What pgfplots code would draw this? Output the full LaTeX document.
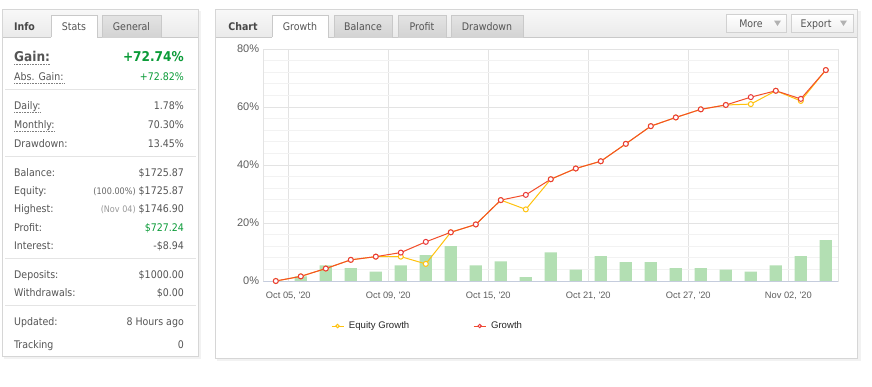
\documentclass[border=0pt]{standalone}
\usepackage{fontspec}
\setmainfont{DejaVu Sans Condensed}
\newfontfamily\arialf{Liberation Sans}
\usepackage{pgfplots}
\pgfplotsset{compat=1.18}
\definecolor{txt}{HTML}{555555}
\definecolor{lbl}{HTML}{5E5E5E}
\definecolor{gr}{HTML}{0B9B38}
\definecolor{sep}{HTML}{E4E4E4}
\definecolor{bord}{HTML}{D6D6D6}
\definecolor{hdtop}{HTML}{F8F8F8}
\definecolor{hdbot}{HTML}{EAEAEA}
\definecolor{tabtop}{HTML}{E4E4E4}
\definecolor{tabbot}{HTML}{D3D3D3}
\definecolor{tabbord}{HTML}{C9C9C9}
\definecolor{barg}{HTML}{B3DFB3}
\definecolor{eqc}{HTML}{FFC20E}
\definecolor{grc}{HTML}{F24E2A}
\definecolor{grm}{HTML}{E8383A}
\definecolor{gridmaj}{HTML}{E3E3E3}
\definecolor{gridmin}{HTML}{F2F2F2}
\definecolor{axb}{HTML}{C5CCDD}
\newcommand\fs[1]{\fontsize{#1}{#1}\selectfont}
\newcommand\row[3]{%
  \node[anchor=base west,inner sep=0,text=txt,font=\fs{10.5}] at (14,-#1) {#2};
  \node[anchor=base east,inner sep=0,text=txt,font=\fs{10.5}] at (184,-#1) {#3};}
\newcommand\drow[4]{%
  \node[anchor=base west,inner sep=0,text=txt,font=\fs{10.5}] (#4) at (14,-#1) {#2};
  \draw[densely dotted,black!50,line width=0.6pt] ([yshift=-3.5pt]#4.base west) -- ([yshift=-3.5pt]#4.base east);
  \node[anchor=base east,inner sep=0,text=txt,font=\fs{10.5}] at (184,-#1) {#3};}
\begin{document}
\begin{tikzpicture}[x=1pt,y=1pt]
\useasboundingbox (0,0) rectangle (872,-386);
% ---------- left panel ----------
\fill[black!5] (4,-11) rectangle (200.5,-359);
\fill[white] (2.5,-9.5) rectangle (198.5,-356.5);
\shade[top color=hdtop,bottom color=hdbot] (2.5,-9.5) rectangle (198.5,-37);
\draw[tabbord] (2.5,-37) -- (198.5,-37);
\shade[top color=tabtop,bottom color=tabbot] (102,-15) rectangle (161,-37);
\draw[tabbord] (102,-37) |- (161,-15) -- (161,-37);
\fill[white] (51,-15) rectangle (97,-37.6);
\draw[tabbord] (51,-37) |- (97,-15) -- (97,-37);
\draw[bord] (2.5,-9.5) rectangle (198.5,-356.5);
\node[anchor=base,inner sep=0,font=\bfseries\fs{10.5},text=black!72] at (24.5,-30) {Info};
\node[anchor=base,inner sep=0,font=\fs{10.5},text=txt] at (74,-30) {Stats};
\node[anchor=base,inner sep=0,font=\fs{10.5},text=txt] at (131.5,-30) {General};
% gain
\node[anchor=base west,inner sep=0,text=txt,font=\bfseries\fs{13.5}] (gn) at (14,-61) {Gain:};
\draw[densely dotted,black!50,line width=0.6pt] ([yshift=-3.5pt]gn.base west) -- ([yshift=-3.5pt]gn.base east);
\node[anchor=base east,inner sep=0,text=gr,font=\bfseries\fs{13.5}] at (184,-61) {+72.74\%};
\drow{80}{Abs. Gain:}{\textcolor{gr}{+72.82\%}}{ag}
\draw[sep] (5,-89) -- (196,-89);
\drow{109}{Daily:}{1.78\%}{dl}
\drow{128}{Monthly:}{70.30\%}{mo}
\row{147}{Drawdown:}{13.45\%}
\draw[sep] (5,-156) -- (196,-156);
\row{176}{Balance:}{\$1725.87}
\row{194}{Equity:}{{\fs{9}\color{black!60}(100.00\%)} \$1725.87}
\row{212}{Highest:}{{\fs{9}\color{black!40}(Nov 04)} \$1746.90}
\row{231}{Profit:}{\textcolor{gr}{\$727.24}}
\row{249}{Interest:}{-\$8.94}
\draw[sep] (5,-258.5) -- (196,-258.5);
\row{278}{Deposits:}{\$1000.00}
\row{296}{Withdrawals:}{\$0.00}
\draw[sep] (5,-305.5) -- (196,-305.5);
\row{325}{Updated:}{8 Hours ago}
\row{348}{Tracking}{0}
% ---------- right panel ----------
\fill[black!5] (217,-11) rectangle (860.5,-361);
\fill[white] (215,-9.5) rectangle (857,-358);
\shade[top color=hdtop,bottom color=hdbot] (215,-9.5) rectangle (857,-37);
\draw[tabbord] (215,-37) -- (857,-37);
\foreach \a/\b in {334/392,398/446,451/523}{
  \shade[top color=tabtop,bottom color=tabbot] (\a,-15) rectangle (\b,-37);
  \draw[tabbord] (\a,-37) |- (\b,-15) -- (\b,-37);}
\fill[white] (272,-15) rectangle (328,-37.6);
\draw[tabbord] (272,-37) |- (328,-15) -- (328,-37);
\draw[bord] (215,-9.5) rectangle (857,-358);
\node[anchor=base,inner sep=0,font=\bfseries\fs{10.5},text=black!72] at (243,-30) {Chart};
\node[anchor=base,inner sep=0,font=\fs{10.5},text=txt] at (300,-30) {Growth};
\node[anchor=base,inner sep=0,font=\fs{10.5},text=txt] at (363,-30) {Balance};
\node[anchor=base,inner sep=0,font=\fs{10.5},text=txt] at (422,-30) {Profit};
\node[anchor=base,inner sep=0,font=\fs{10.5},text=txt] at (487,-30) {Drawdown};
% buttons
\foreach \a/\b in {726/786,791/853}{
  \shade[top color=white,bottom color=black!6] (\a,-14.5) rectangle (\b,-32);
  \draw[black!18] (\a,-14.5) rectangle (\b,-32);}
\node[anchor=base,inner sep=0,font=\fs{10.5},text=txt] at (751,-27.5) {More};
\node[anchor=base,inner sep=0,font=\fs{10.5},text=txt] at (816,-27.5) {Export};
\fill[black!30] (774,-20.5) -- (781,-20.5) -- (777.5,-26) -- cycle;
\fill[black!30] (840,-20.5) -- (847,-20.5) -- (843.5,-26) -- cycle;
% ---------- chart ----------
\begin{axis}[at={(263.3pt,-281pt)}, anchor=south west, scale only axis,
  width=575pt, height=232pt,
  xmin=-0.5, xmax=22.5, ymin=0, ymax=80,
  xtick={0.5,4.5,8.5,12.5,16.5,20.5},
  xticklabels={{Oct 05, \textquotesingle20},{Oct 09, \textquotesingle20},{Oct 15, \textquotesingle20},{Oct 21, \textquotesingle20},{Oct 27, \textquotesingle20},{Nov 02, \textquotesingle20}},
  ytick={0,20,40,60,80},
  minor ytick={4,8,12,16,24,28,32,36,44,48,52,56,64,68,72,76},
  yticklabel={\pgfmathprintnumber{\tick}\%},
  /pgf/number format/assume math mode=true,
  xmajorgrids, ymajorgrids, yminorgrids,
  major grid style={gridmaj, line width=0.8pt},
  minor grid style={gridmin, line width=0.8pt},
  axis line style={gridmaj},
  tick style={draw=none}, minor tick style={draw=none},
  yticklabel style={inner sep=0pt, xshift=-4pt, font=\arialf\fs{11}, text=lbl},
  xticklabel style={inner sep=0pt, yshift=-10.5pt, font=\arialf\fs{9.3}, text=lbl},
  legend columns=2,
  legend style={draw=none, fill=none, at={(0.1125,-0.194)}, anchor=west,
    font=\arialf\fs{9.6}, text=black!85, nodes={inner sep=0pt},
    /tikz/every odd column/.append style={column sep=5pt},
    /tikz/every even column/.append style={column sep=64pt}},
  legend image code/.code={\draw[#1,mark repeat=2,mark phase=2,mark size=1.7pt,line width=0.8pt] plot coordinates {(0pt,0pt) (6pt,0pt) (12pt,0pt)};},
]
\addplot[ybar, bar width=12.3pt, fill=barg, draw=none, forget plot] coordinates {
(1,1.6) (2,5.4) (3,4.4) (4,3.2) (5,5.4) (6,8.9) (7,12.0) (8,5.4) (9,6.8) (10,1.3)
(11,9.9) (12,3.9) (13,8.6) (14,6.5) (15,6.5) (16,4.4) (17,4.4) (18,3.9) (19,3.2)
(20,5.4) (21,8.6) (22,14.1)};
\addplot[eqc, line width=1pt, mark=*, mark size=2.5pt, mark options={fill=white, draw=eqc, line width=1pt}] coordinates {
(0,0) (1,1.6) (2,4.3) (3,7.3) (4,8.4) (5,8.4) (6,5.9) (7,16.8) (8,19.5) (9,27.9)
(10,24.7) (11,35.1) (12,38.8) (13,41.3) (14,47.3) (15,53.4) (16,56.4) (17,59.2)
(18,60.7) (19,61.0) (20,65.6) (21,62.1) (22,72.74)};
\addlegendentry{Equity Growth}
\addplot[grc, line width=1pt, mark=*, mark size=2.5pt, mark options={fill=white, draw=grm, line width=1pt}] coordinates {
(0,0) (1,1.6) (2,4.3) (3,7.3) (4,8.4) (5,9.8) (6,13.5) (7,16.8) (8,19.5) (9,27.9)
(10,29.7) (11,35.1) (12,38.8) (13,41.3) (14,47.3) (15,53.4) (16,56.4) (17,59.2)
(18,60.7) (19,63.4) (20,65.6) (21,62.8) (22,72.74)};
\addlegendentry{Growth}
\draw[axb, line width=1pt] (axis cs:-0.5,0) -- (axis cs:22.5,0);
\end{axis}
\end{tikzpicture}
\end{document}
